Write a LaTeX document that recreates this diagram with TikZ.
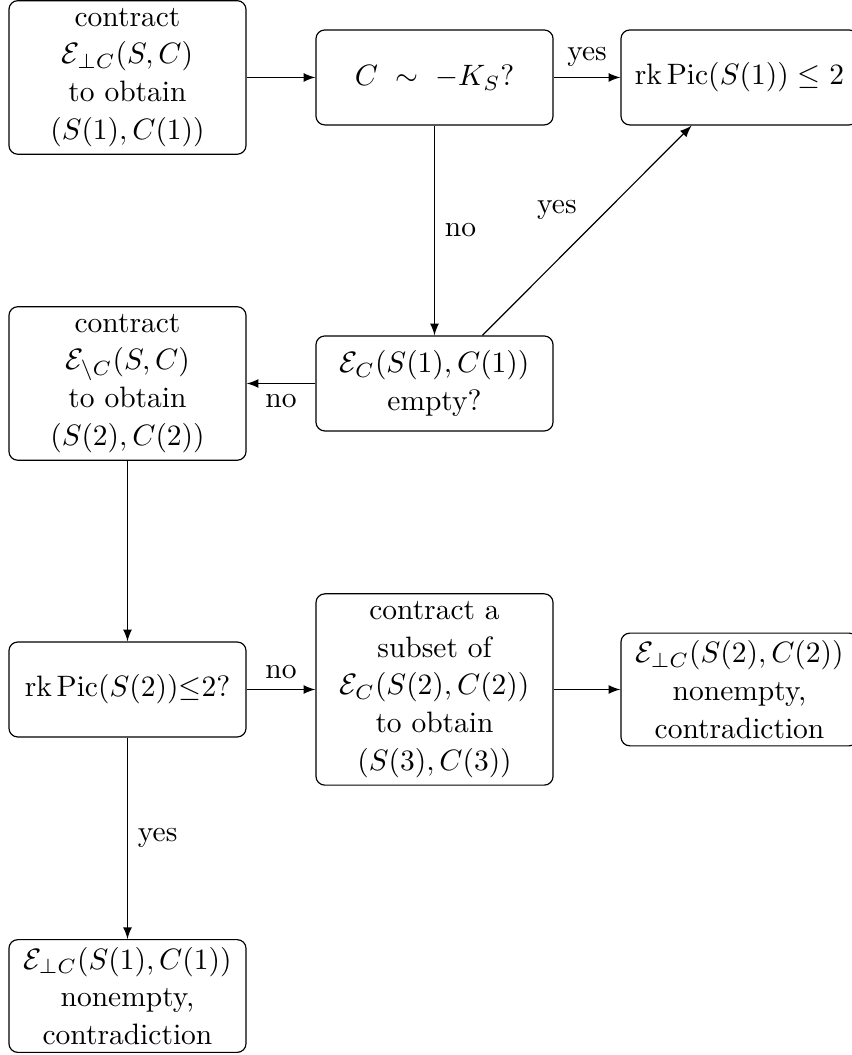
\documentclass[tikz,border=0pt]{standalone}
\usepackage{amsmath}
\usepackage{tikz}
\usetikzlibrary{arrows,positioning}

\begin{document}
\begin{tikzpicture}[>=latex,
        box/.style={draw, rounded corners=3pt, align=center, text width=2.6cm,
            font=\fontsize{10}{12.8}\selectfont,
            minimum height=32.2pt, inner xsep=3.2pt, inner ysep=2.5pt}]
            \useasboundingbox (0,0) rectangle (10.151,-12.570);

            % first row
            \node[box] (contr1) at (1.519,-0.923) {contract\\ $\mathcal{E}_{\perp C}(S,C)$\\ to obtain\\ $(S(1),C(1))$};
            \node[box] (anti) at (5.177,-0.923) {$C\,\sim\,-K_S$?};
            \node[box] (rank1) at (8.811,-0.923) {$\operatorname{rk}\operatorname{Pic}(S(1))\leq 2$};

            % second row
            \node[box] (contr2) at (1.519,-4.569) {contract\\ $\mathcal{E}_{\setminus C}(S,C)$\\ to obtain\\ $(S(2),C(2))$};
            \node[box] (empty) at (5.177,-4.569) {$\mathcal{E}_{C}(S(1),C(1))$\\ empty?};

            % third row
            \node[box] (rank2) at (1.519,-8.215) {$\operatorname{rk}\operatorname{Pic}(S(2)){\leq}2$?};
            \node[box] (contr3) at (5.177,-8.215) {contract a\\ subset of\\ $\mathcal{E}_{C}(S(2),C(2))$\\ to obtain\\ $(S(3),C(3))$};
            \node[box] (contra2) at (8.811,-8.215) {$\mathcal{E}_{\perp C}(S(2),C(2))$\\ nonempty,\\ contradiction};

            % last row
            \node[box] (contra1) at (1.519,-11.867) {$\mathcal{E}_{\perp C}(S(1),C(1))$\\ nonempty,\\ contradiction};

            % arrows
            \draw[->] (contr1) -- (anti);
            \draw[->] (anti) -- node[above] {yes} (rank1);
            \draw[->] (anti) -- node[right] {no} (empty);
            \draw[->] (empty) -- node[above left] {yes} (rank1);
            \draw[->] (empty) -- node[below] {no} (contr2);
            \draw[->] (contr2) -- (rank2);
            \draw[->] (rank2) -- node[above] {no} (contr3);
            \draw[->] (contr3) -- (contra2);
            \draw[->] (rank2) -- node[right] {yes} (contra1);
        \end{tikzpicture}
\end{document}
